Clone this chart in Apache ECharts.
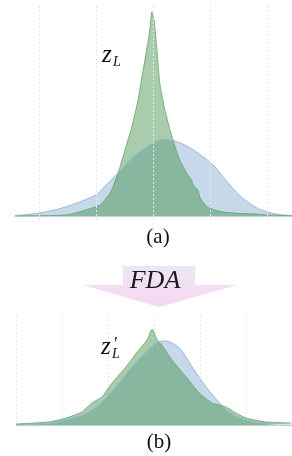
<!DOCTYPE html>
<html>
<head>
<meta charset="utf-8">
<script src="https://cdn.jsdelivr.net/npm/echarts@6/dist/echarts.min.js"></script>
<style>
  html, body { margin: 0; padding: 0; background: #fff; }
  #chart { width: 292px; height: 456px; }
</style>
</head>
<body>
<div id="chart"></div>
<script>
// (a) before FDA: z_L density (green) vs reference (blue)
const topBlueX = [-2.42, -2.0, -1.53, -1.0, -0.84, -0.61, -0.35, -0.11, 0.07, 0.21, 0.39, 0.56, 0.74, 0.91, 1.09, 1.26, 1.53, 1.79, 2.0, 2.23, 2.44];
const topBlueY = [0.002, 0.014, 0.043, 0.100, 0.142, 0.204, 0.280, 0.327, 0.355, 0.365, 0.355, 0.336, 0.308, 0.275, 0.232, 0.175, 0.095, 0.043, 0.019, 0.007, 0.002];
const topGreenX = [-2.42, -1.81, -1.51, -1.23, -0.93, -0.75, -0.61, -0.49, -0.37, -0.26, -0.18, -0.09, -0.05, -0.02, 0.02, 0.07, 0.12, 0.21, 0.30, 0.39, 0.47, 0.56, 0.61, 0.68, 0.70, 0.79, 0.82, 0.88, 0.95, 1.09, 1.23, 1.53, 1.82, 2.0, 2.44];
const topGreenY = [0.0, 0.002, 0.005, 0.024, 0.052, 0.109, 0.204, 0.313, 0.422, 0.550, 0.678, 0.820, 0.891, 0.967, 0.929, 0.787, 0.630, 0.502, 0.408, 0.327, 0.265, 0.218, 0.194, 0.171, 0.147, 0.123, 0.090, 0.066, 0.043, 0.028, 0.019, 0.012, 0.009, 0.005, 0.001];
const topGridX = [-2, -1, 0, 1, 2];

// (b) after FDA: z'_L
const botBlueX = [-3.0, -2.28, -1.57, -1.2, -0.83, -0.48, -0.17, 0.04, 0.22, 0.39, 0.59, 0.83, 1.13, 1.41, 1.63, 2.0, 2.43, 2.98];
const botBlueY = [0.0, 0.018, 0.092, 0.183, 0.349, 0.532, 0.670, 0.752, 0.771, 0.752, 0.688, 0.532, 0.349, 0.211, 0.119, 0.046, 0.018, 0.009];
const botGreenX = [-3.0, -2.28, -1.91, -1.57, -1.35, -1.13, -0.91, -0.61, -0.33, -0.15, -0.04, 0.07, 0.17, 0.39, 0.70, 0.98, 1.26, 1.57, 1.74, 2.0, 2.43, 2.98];
const botGreenY = [0.009, 0.028, 0.064, 0.119, 0.202, 0.257, 0.385, 0.532, 0.688, 0.780, 0.881, 0.780, 0.734, 0.596, 0.440, 0.294, 0.202, 0.165, 0.119, 0.064, 0.028, 0.018];

const zip = (xs, ys) => xs.map((x, i) => [x, ys[i]]);

const BLUE = '#8db3d8';
const GREEN = '#32873a';
const serif = '"Liberation Serif", "DejaVu Serif", serif';

function blueSeries(idx, data, extra) {
  return Object.assign({
    type: 'line', xAxisIndex: idx, yAxisIndex: idx, data: data,
    smooth: 0.3, showSymbol: false, silent: true,
    lineStyle: { color: '#9ab8d6', width: 1 },
    areaStyle: { color: BLUE, opacity: 0.5 }
  }, extra || {});
}
function greenSeries(idx, data) {
  return {
    type: 'line', xAxisIndex: idx, yAxisIndex: idx, data: data,
    smooth: 0.15, showSymbol: false, silent: true,
    lineStyle: { color: '#66a164', width: 1, opacity: 0.8 },
    areaStyle: { color: GREEN, opacity: 0.42 }
  };
}

const chart = echarts.init(document.getElementById('chart'));
chart.setOption({
  animation: false,
  backgroundColor: '#fff',
  grid: [
    { left: 15, right: 0, top: 5, height: 211 },
    { left: 16, right: 0, top: 316, height: 109 }
  ],
  xAxis: [
    {
      gridIndex: 0, type: 'value', min: -2.42, max: 2.44,
      axisLine: { show: true, lineStyle: { color: '#c9d3dc', width: 1 } },
      axisTick: { show: true, customValues: topGridX, length: 4, lineStyle: { color: '#e8e8e8' } },
      axisLabel: { show: false },
      splitLine: { show: false }
    },
    {
      gridIndex: 1, type: 'value', min: -3, max: 3, interval: 1,
      axisLine: { show: true, lineStyle: { color: '#c3d0c6', width: 1 } },
      axisTick: { show: false },
      axisLabel: { show: false },
      splitLine: { show: true, lineStyle: { color: '#e6e6e6', type: [2, 2], width: 1 } }
    }
  ],
  yAxis: [
    { gridIndex: 0, type: 'value', min: 0, max: 1, show: false },
    { gridIndex: 1, type: 'value', min: 0, max: 1, show: false }
  ],
  series: [
    blueSeries(0, zip(topBlueX, topBlueY), {
      markLine: {
        silent: true, symbol: ['none', 'none'], label: { show: false },
        lineStyle: { color: '#e6e6e6', type: [2, 2], width: 1 },
        data: topGridX.map(v => ({ xAxis: v }))
      }
    }),
    greenSeries(0, zip(topGreenX, topGreenY)),
    blueSeries(1, zip(botBlueX, botBlueY)),
    greenSeries(1, zip(botGreenX, botGreenY))
  ],
  graphic: [
    // FDA arrow
    {
      type: 'polygon', silent: true, z: 1,
      shape: { points: [[123, 266], [195, 266], [195, 285], [237, 285], [159, 307], [83, 285], [123, 285]] },
      style: {
        fill: new echarts.graphic.LinearGradient(0, 0, 0, 1, [
          { offset: 0, color: '#eee6f5' },
          { offset: 0.5, color: '#f3def3' },
          { offset: 1, color: '#f6d6f1' }
        ])
      }
    },
    { type: 'text', x: 155, y: 281, z: 5, style: { text: 'FDA', font: 'italic 26px ' + serif, fill: '#1a1a1a', align: 'center', verticalAlign: 'middle' } },
    // z_L label
    { type: 'text', x: 102, y: 55, z: 5, style: { text: 'z', font: 'italic 25px ' + serif, fill: '#111', align: 'left', verticalAlign: 'middle' } },
    { type: 'text', x: 113, y: 62, z: 5, style: { text: 'L', font: 'italic 14px ' + serif, fill: '#111', align: 'left', verticalAlign: 'middle' } },
    // z'_L label
    { type: 'text', x: 101, y: 347, z: 5, style: { text: 'z', font: 'italic 25px ' + serif, fill: '#111', align: 'left', verticalAlign: 'middle' } },
    { type: 'text', x: 114, y: 345, z: 5, style: { text: '\u2032', font: '18px ' + serif, fill: '#111', align: 'left', verticalAlign: 'middle' } },
    { type: 'text', x: 112, y: 354, z: 5, style: { text: 'L', font: 'italic 14px ' + serif, fill: '#111', align: 'left', verticalAlign: 'middle' } },
    // captions
    { type: 'text', x: 158, y: 237, z: 5, style: { text: '(a)', font: '21px ' + serif, fill: '#111', align: 'center', verticalAlign: 'middle' } },
    { type: 'text', x: 159, y: 442, z: 5, style: { text: '(b)', font: '21px ' + serif, fill: '#111', align: 'center', verticalAlign: 'middle' } }
  ]
});
</script>
</body>
</html>
